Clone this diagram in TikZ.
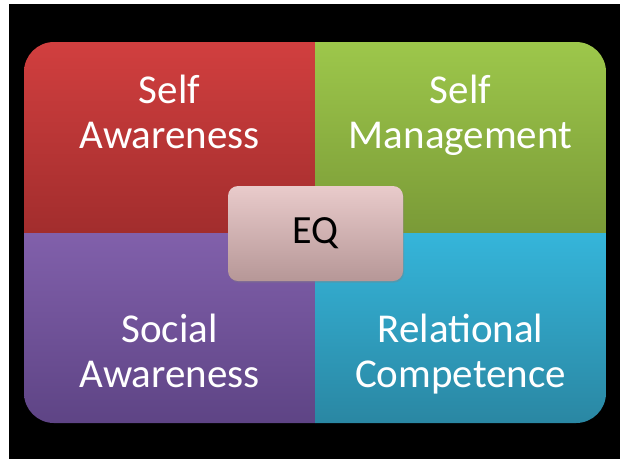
\documentclass[tikz,border=0pt]{standalone}
\usepackage{fontspec}
\setmainfont{Carlito}
\usetikzlibrary{shadows}

\definecolor{redtop}{HTML}{D13F3F}
\definecolor{redbot}{HTML}{A22D2D}
\definecolor{greentop}{HTML}{9DC74B}
\definecolor{greenbot}{HTML}{7A9A37}
\definecolor{purpletop}{HTML}{8160AB}
\definecolor{purplebot}{HTML}{5E4485}
\definecolor{bluetop}{HTML}{35B5DA}
\definecolor{bluebot}{HTML}{2A87A3}
\definecolor{eqtop}{HTML}{E9CBCB}
\definecolor{eqbot}{HTML}{B69797}

\tikzset{
	quadtext/.style={text=white, align=center, anchor=base, font=\fontsize{41pt}{45pt}\selectfont},
	eqbox/.style={rounded corners=10pt, top color=eqtop, bottom color=eqbot, minimum width=175pt, minimum height=95pt, font=\fontsize{40pt}{45pt}\selectfont, drop shadow={opacity=0.35, shadow xshift=1pt, shadow yshift=-1.5pt}}
}

\begin{document}
\begin{tikzpicture}[x=1pt, y=-1pt]
		\useasboundingbox (0,0) rectangle (620,459);
		\fill[white] (0,0) rectangle (620,459);
		\fill[black] (9,4) rectangle (620,459);

		% Quadrants
		\begin{scope}
			\clip[rounded corners=30pt] (24,42) rectangle (606,423);
			\shade[top color=redtop, bottom color=redbot] (24,42) rectangle (315,233);
			\shade[top color=greentop, bottom color=greenbot] (315,42) rectangle (606,233);
			\shade[top color=purpletop, bottom color=purplebot] (24,233) rectangle (315,423);
			\shade[top color=bluetop, bottom color=bluebot] (315,233) rectangle (606,423);
		\end{scope}

		\node[quadtext] (selfaw) at (169.5,148) {Self\\Awareness};
		\node[quadtext] (selfman) at (460.5,148) {Self\\Management};
		\node[quadtext] (socaw) at (169.5,387) {Social\\Awareness};
		\node[quadtext] (relcomp) at (460.5,387) {Relational\\Competence};

		% Centre
		\node[eqbox] (eq) at (315.5,233.5) {EQ};

	\end{tikzpicture}
\end{document}
